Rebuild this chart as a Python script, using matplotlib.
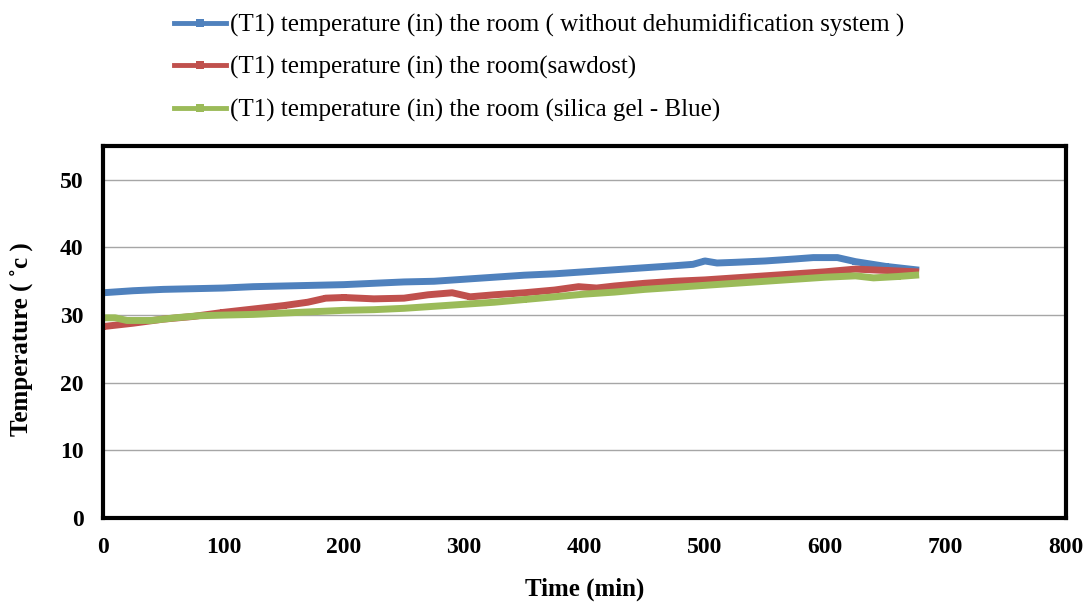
import matplotlib
matplotlib.use('Agg')
import matplotlib.pyplot as plt
from matplotlib.lines import Line2D

# 读图估计的数据
t_blue = [0, 25, 50, 75, 100, 125, 150, 175, 200, 225, 250, 275, 300, 325, 350, 375,
          400, 425, 450, 475, 490, 500, 510, 525, 550, 575, 590, 610, 625, 650, 675]
temp_blue = [33.3, 33.6, 33.8, 33.9, 34.0, 34.2, 34.3, 34.4, 34.5, 34.7, 34.9, 35.0, 35.3, 35.6,
             35.9, 36.1, 36.4, 36.7, 37.0, 37.3, 37.5, 38.0, 37.7, 37.8, 38.0, 38.3, 38.5, 38.5,
             37.9, 37.2, 36.7]

t_red = [0, 25, 50, 75, 100, 125, 150, 170, 185, 200, 225, 250, 270, 290, 305, 325, 350, 375,
         395, 410, 425, 450, 475, 500, 525, 550, 575, 600, 625, 650, 675]
temp_red = [28.3, 28.8, 29.4, 29.8, 30.4, 30.9, 31.4, 31.9, 32.5, 32.6, 32.4, 32.5, 33.0, 33.3,
            32.7, 33.0, 33.3, 33.7, 34.2, 34.0, 34.3, 34.7, 35.0, 35.2, 35.5, 35.8, 36.1, 36.4,
            36.8, 36.6, 36.4]

t_green = [0, 10, 20, 40, 60, 80, 100, 125, 150, 175, 200, 225, 250, 275, 300, 325, 350, 375,
           400, 425, 450, 475, 500, 525, 550, 575, 600, 625, 640, 660, 675]
temp_green = [29.6, 29.6, 29.2, 29.2, 29.6, 29.9, 30.0, 30.1, 30.3, 30.5, 30.7, 30.8, 31.0, 31.3,
              31.6, 31.9, 32.3, 32.7, 33.1, 33.4, 33.8, 34.1, 34.4, 34.7, 35.0, 35.3, 35.6, 35.8,
              35.5, 35.7, 35.9]

labels = ['(T1) temperature (in) the room ( without dehumidification system )',
          '(T1) temperature (in) the room(sawdost)',
          '(T1) temperature (in) the room (silica gel - Blue)']
colors = ['#4F81BD', '#C0504D', '#9BBB59']

plt.rcParams['font.family'] = ['Liberation Serif', 'DejaVu Serif']

fig = plt.figure(figsize=(10.89, 6.04), dpi=100)
ax = fig.add_axes([0.0946, 0.1424, 0.8844, 0.6159])

series = [(t_blue, temp_blue), (t_red, temp_red), (t_green, temp_green)]
for (t, y), c in zip(series, colors):
    ax.plot(t, y, color=c, lw=5, marker='s', ms=5, mew=0, solid_joinstyle='round')

ax.set_xlim(0, 800)
ax.set_ylim(0, 55)
ax.set_xticks(range(0, 801, 100))
ax.set_yticks(range(0, 51, 10))
ax.yaxis.grid(True, color='#a6a6a6', lw=1)
ax.set_axisbelow(True)
ax.tick_params(length=0, labelsize=17)
ax.tick_params(axis='x', pad=14)
ax.tick_params(axis='y', pad=14)
for lbl in ax.get_xticklabels() + ax.get_yticklabels():
    lbl.set_fontweight('bold')
for sp in ax.spines.values():
    sp.set_linewidth(3)
    sp.set_color('black')

ax.set_xlabel('Time (min)', fontsize=18, fontweight='bold', labelpad=14)
ax.set_ylabel('Temperature ( ˚c )', fontsize=18, fontweight='bold')
ax.yaxis.set_label_coords(-0.073, 0.48)

# 图例：细线 + 方形标记
handles = [Line2D([], [], color=c, lw=3.5, marker='s', ms=6, mew=0) for c in colors]
fig.legend(handles, labels, loc='upper left', bbox_to_anchor=(0.139, 1.015), frameon=False,
           fontsize=18, handlelength=2.1, handletextpad=0.15, labelspacing=0.78)

fig.savefig('out.png', dpi=100, facecolor='white')
